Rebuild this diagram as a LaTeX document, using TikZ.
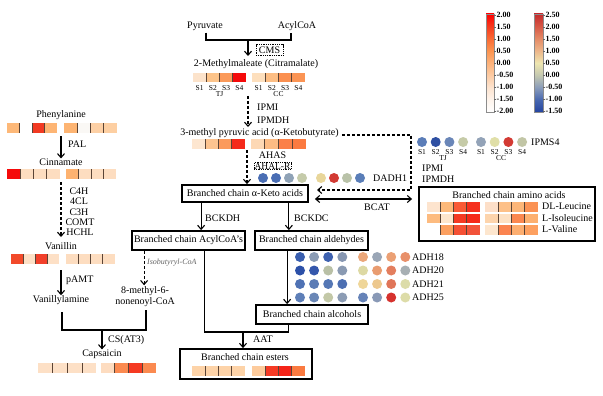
\documentclass[tikz,border=0pt]{standalone}
\usepackage{fontspec}
\setmainfont{Liberation Serif}
\usetikzlibrary{arrows.meta,calc}
\definecolor{sepc}{HTML}{5A4436}
\newcommand\hmrow[5]{%
  \foreach \hc [count=\hi from 0] in {#5}{%
    \edef\hmtmp{\noexpand\definecolor{hmc}{HTML}{\hc}}\hmtmp
    \fill[hmc] ({#1+\hi*#3},#2) rectangle ({#1+(\hi+1)*#3},{#2+#4});
  }%
  \foreach \hi in {1,2,3}{\draw[sep] ({#1+\hi*#3},#2) -- ({#1+\hi*#3},{#2+#4});}%
}
\newcommand\dotrow[4]{%
  \foreach \hc [count=\hi from 0] in {#4}{%
    \edef\hmtmp{\noexpand\definecolor{hmc}{HTML}{\hc}}\hmtmp
    \fill[hmc] ({#1+\hi*#3},#2) circle[radius=5pt];
  }%
}
\newcommand\slabels[4]{% x0, y, dx, prefix
  \foreach \si in {1,2,3,4}{\node[sm] (#4\si) at ({#1+(\si-1)*#3},#2) {S\si};}%
}
\definecolor{a1}{HTML}{FFFFFF}
\definecolor{a2}{HTML}{FEF4EC}
\definecolor{a3}{HTML}{FDE4D0}
\definecolor{a4}{HTML}{FDCCA4}
\definecolor{a5}{HTML}{FDB27A}
\definecolor{a6}{HTML}{FC9450}
\definecolor{a7}{HTML}{FA6A34}
\definecolor{a8}{HTML}{F63A1E}
\definecolor{a9}{HTML}{FF0000}
\definecolor{b1}{HTML}{2444A0}
\definecolor{b2}{HTML}{4868B0}
\definecolor{b3}{HTML}{8A9CBA}
\definecolor{b4}{HTML}{C4C8B0}
\definecolor{b5}{HTML}{EEE6B0}
\definecolor{b6}{HTML}{EDB68A}
\definecolor{b7}{HTML}{E48A66}
\definecolor{b8}{HTML}{D65846}
\definecolor{b9}{HTML}{C42A2C}
\pgfdeclareverticalshading{legA}{100bp}{color(0bp)=(a1); color(25bp)=(a1); color(31.25bp)=(a2); color(37.5bp)=(a3); color(43.75bp)=(a4); color(50bp)=(a5); color(56.25bp)=(a6); color(62.5bp)=(a7); color(68.75bp)=(a8); color(75bp)=(a9); color(100bp)=(a9)}
\pgfdeclareverticalshading{legB}{100bp}{color(0bp)=(b1); color(25bp)=(b1); color(31.25bp)=(b2); color(37.5bp)=(b3); color(43.75bp)=(b4); color(50bp)=(b5); color(56.25bp)=(b6); color(62.5bp)=(b7); color(68.75bp)=(b8); color(75bp)=(b9); color(100bp)=(b9)}
\tikzset{
  lbl/.style={inner sep=0pt, font=\fontsize{10}{12}\selectfont},
  sm/.style={inner sep=0pt, font=\fontsize{7.5}{9}\selectfont},
  leg/.style={inner sep=0pt, anchor=west, font=\fontsize{8}{9}\selectfont\bfseries},
  line/.style={line width=1.1pt},
  arr/.style={line width=1.1pt, -{Straight Barb[length=4pt,width=7pt]}},
  darr/.style={arr, dash pattern=on 3pt off 2pt},
  dbl/.style={line width=1.1pt, {Straight Barb[length=4pt,width=7pt]}-{Straight Barb[length=4pt,width=7pt]}},
  bbox/.style={draw, line width=1.8pt, inner sep=0pt, font=\fontsize{10}{12}\selectfont},
  dotbox/.style={draw, densely dotted, line width=0.8pt, inner xsep=3pt, inner ysep=2pt, font=\fontsize{10}{12}\selectfont},
  sep/.style={draw=sepc, line width=0.6pt},
}
\begin{document}
\begin{tikzpicture}[x=1pt,y=-1pt]
\fill[white] (0,0) rectangle (603,396);
\useasboundingbox (0,0) rectangle (603,396);

% ---------- top ----------
\node[lbl] (pyr) at (205,26) {Pyruvate};
\node[lbl] (acy) at (297,26) {AcylCoA};
\coordinate (br) at (248,40);
\draw[line] ($(pyr.south)+(1,2)$) |- (br) -| ($(acy.south)+(-6,2)$);
\node[lbl] (mm) at (256,64) {2-Methylmaleate (Citramalate)};
\coordinate (mmtop) at (248,56);
\draw[arr] (br) -- (mmtop);
\node[dotbox] (cms) at (269.5,50) {CMS};
\hmrow{193}{73}{13.25}{9.5}{FCE3CB,FDC48A,FB9A5A,F50A0A}
\hmrow{252}{73}{13.25}{9.5}{FDDFBD,FDBE84,FB9050,FB9454}
\slabels{199.6}{88}{13.25}{ta}
\slabels{258.6}{88}{13.25}{ca}
\node[sm] (tja) at (219.5,94.5) {TJ};
\node[sm] (cca) at (278.5,94.5) {CC};

\coordinate (d1) at (248,96);
\coordinate (d1e) at (248,127);
\draw[darr] (d1) -- (d1e);
\node[lbl,anchor=west] (ipmi1) at (257,107) {IPMI};
\node[lbl,anchor=west] (ipmdh1) at (257,120) {IPMDH};
\node[lbl] (mpa) at (259.5,133) {3-methyl pyruvic acid (α-Ketobutyrate)};
\hmrow{192}{139}{13.25}{9.5}{FDE6D0,FDC490,FB9A5C,F52A1A}
\hmrow{251}{139}{13.75}{9.5}{FDD8B4,FDBC84,FB8048,FB7A40}
\node[lbl] (ahas) at (272.5,155) {AHAS};
\node[dotbox, inner xsep=0.5pt, inner ysep=0.3pt, font=\fontsize{9.5}{10}\selectfont] (ahal) at (272.5,166) {AHAL-R};

\node[bbox, minimum width=126pt, minimum height=17pt] (keto) at (245,193.5) {Branched chain α-Keto acids};
\coordinate (d2) at (247,150);
\draw[darr] (d2) -- (d2 |- keto.north);

\dotrow{263}{178}{13}{4A6EB4,4A6EB4,8FA2B6,C5CBAA}
\dotrow{321}{178}{13}{E8D69A,D23A33,B9C2A8,5A7EB8}
\node[lbl,anchor=west] (dadh) at (373,178) {DADH1};

\coordinate (c2) at (411,190);
\coordinate (c3) at (317,190);
\draw[darr] ($(mpa.east)+(3,2)$) -| (c2) -- (c3);

% IPMS4
\dotrow{422}{142}{13.7}{5B7DB8,2E4FA2,6A86B8,C6CBA8}
\dotrow{481}{142}{13.7}{93A3B8,E0DFA8,D33A33,C2C6A6}
\slabels{422}{152.5}{13.7}{tb}
\slabels{481}{152.5}{13.7}{cb}
\node[sm] (tjb) at (443,158.5) {TJ};
\node[sm] (ccb) at (501,158.5) {CC};
\node[lbl,anchor=west] (ipms) at (531,142) {IPMS4};
\node[lbl,anchor=west] (ipmi2) at (422,168) {IPMI};
\node[lbl,anchor=west] (ipmdh2) at (422,179) {IPMDH};

% amino acids
\node[draw, line width=1.8pt, minimum width=176pt, minimum height=54pt, inner sep=0pt] (amino) at (507,214) {};
\node[lbl] (aat) at (509,195) {Branched chain amino acids};
\hmrow{427}{202}{13.25}{9.5}{FDE4CE,FDB97A,FA5A36,F5301E}
\hmrow{485}{202}{13.25}{9.5}{FDDFC8,FDC088,FDB678,FB9254}
\hmrow{427}{213.5}{13.25}{9.5}{FDBB7F,FDE6CD,F53A24,F52A1A}
\hmrow{485}{213.5}{13.25}{9.5}{FDD4AC,FDE1C4,FB8850,FDB070}
\hmrow{427}{225}{13.25}{9.5}{FFFFFF,FCA060,F55034,F2533A}
\hmrow{485}{225}{13.25}{9.5}{FDE6CE,FB8450,FDAE70,FDA060}
\node[lbl,anchor=west] (leu) at (542,206.5) {DL-Leucine};
\node[lbl,anchor=west] (ile) at (542,218) {L-Isoleucine};
\node[lbl,anchor=west] (val) at (542,229.5) {L-Valine};

\draw[dbl] ($(keto.east)+(6,5.5)$) -- ($(amino.west)+(-6,-15)$);
\node[lbl] (bcat) at (377,207.5) {BCAT};

% second level
\node[bbox, minimum width=113pt, minimum height=19pt] (acylb) at (188.5,240.5) {Branched chain AcylCoA’s};
\node[bbox, minimum width=113pt, minimum height=19pt] (aldb) at (311.5,240.5) {Branched chain aldehydes};
\coordinate (k1) at ($(keto.south west)+(20,0)$);
\coordinate (k2) at ($(keto.south east)+(-20,0)$);
\draw[arr] (k1) -- (k1 |- acylb.north);
\draw[arr] (k2) -- (k2 |- aldb.north);
\node[lbl,anchor=west] (bckdh) at (205,218) {BCKDH};
\node[lbl,anchor=west] (bckdc) at (294,218) {BCKDC};

\coordinate (a1) at ($(acylb.south west)+(13,0)$);
\node[lbl, align=center, font=\fontsize{10}{11}\selectfont] (nonen) at (145,296.5) {8-methyl-6-\\nonenoyl-CoA};
\draw[darr] (a1) -- ($(a1 |- nonen.north)+(0,-1)$);
\node[sm, anchor=west, text=black!60, font=\fontsize{8}{9}\selectfont\itshape] (isob) at (147,263) {Isobutyryl-CoA};

% ADH
\dotrow{300}{257}{14.1}{3A5FAF,8B9CB5,3F62B0,8797B2}
\dotrow{363}{257}{14.1}{EBA77A,9AA6B6,EBA074,E8906A}
\dotrow{300}{270.5}{14.1}{2C50A8,3457AC,B9C0A6,8A9AB2}
\dotrow{363}{270.5}{14.1}{DDD9A4,E99C70,E37E5E,A7AFB3}
\dotrow{300}{284}{14.1}{4F72B4,5B7CB6,5577B5,4D6FB2}
\dotrow{363}{284}{14.1}{EFD699,EDC88E,E07558,DCDCA9}
\dotrow{300}{297.5}{14.1}{5E7FB8,6A87B6,C3C8A7,8C9CB4}
\dotrow{363}{297.5}{14.1}{6683B8,8999B6,D6322E,DDDCA8}
\node[lbl,anchor=west] (adh18) at (412,257) {ADH18};
\node[lbl,anchor=west] (adh20) at (412,270.5) {ADH20};
\node[lbl,anchor=west] (adh21) at (412,284) {ADH21};
\node[lbl,anchor=west] (adh25) at (412,297.5) {ADH25};

\node[bbox, minimum width=112pt, minimum height=19pt] (alcb) at (312,314.5) {Branched chain alcohols};
\coordinate (l1) at ($(aldb.south west)+(33,0)$);
\draw[arr] (l1) -- (l1 |- alcb.north);

\node[draw, line width=1.8pt, minimum width=132pt, minimum height=30pt, inner sep=0pt] (estb) at (246,364) {};
\node[lbl] (estt) at (245,357) {Branched chain esters};
\hmrow{192}{366}{13.25}{9.5}{FDD3A8,FDD3A8,FDD3A8,FDD3A8}
\hmrow{252}{366}{13.25}{9.5}{FDCB9C,F53A24,F52418,FA7A40}

\coordinate (a2) at ($(acylb.south west)+(73,0)$);
\coordinate (l2) at ($(alcb.south west)+(33,0)$);
\coordinate (m1) at (243,332);
\draw[line] (a2) |- (m1) -| (l2);
\draw[arr] (m1) -- (m1 |- estb.north);
\node[lbl,anchor=west] (aatl) at (253,339) {AAT};

% ---------- left column ----------
\node[lbl] (phe) at (61,115) {Phenylanine};
\hmrow{7}{123}{12.5}{10}{FDB878,FFFFFF,F23A22,FDB574}
\hmrow{64}{123}{13.25}{10}{FDB472,FAF8F5,FDD0A5,FDCFA2}
\node[lbl] (cin) at (61,162) {Cinnamate};
\coordinate (p1) at (61,136);
\draw[arr] (p1) -- (p1 |- cin.north);
\node[lbl,anchor=west] (pal) at (68,144) {PAL};
\hmrow{7}{169}{13.25}{10}{F50A0A,FDDDC0,FDDDC0,FDDDC0}
\hmrow{66}{169}{12.5}{10}{FDB270,FDDDC0,FDDDC0,FDDDC0}
\node[lbl] (van) at (61,246) {Vanillin};
\coordinate (p2) at (61,182);
\coordinate (p2e) at (61,237);
\draw[darr] (p2) -- (p2e);
\node[lbl] (c4h) at (79,191) {C4H};
\node[lbl] (fcl) at (79,201.5) {4CL};
\node[lbl] (c3h) at (79,212) {C3H};
\node[lbl] (comt) at (80,222) {COMT};
\node[lbl] (hchl) at (80,232) {HCHL};
\hmrow{11}{254}{12}{10}{F24A2A,FDE0C6,F2402A,FDE0C6}
\hmrow{66}{254}{12.25}{10}{FDDDC0,FDDDC0,FDDDC0,FDDDC0}
\node[lbl] (vana) at (61,300) {Vanillylamine};
\coordinate (p3) at (61,270);
\draw[arr] (p3) -- (p3 |- vana.north);
\node[lbl,anchor=west] (pamt) at (66,280) {pAMT};
\coordinate (v1) at (62,312);
\coordinate (v2) at (146,310);
\coordinate (m2) at (102,330);
\draw[line] (v1) |- (m2) -| (v2);
\node[lbl] (cap) at (102,354) {Capsaicin};
\draw[arr] (m2) -- (m2 |- cap.north);
\node[lbl,anchor=west] (cs) at (108,340) {CS(AT3)};
\hmrow{38}{363}{14.6}{10}{FDE0C6,FDE0C6,FDE0C6,FDE0C6}
\hmrow{101}{363}{13.75}{10}{FDDCC0,FB8A50,F53A22,FB8A50}

% ---------- legends ----------
\shade[shading=legA] (486,14) rectangle (494,112);
\draw[black!45, line width=0.6pt] (486,14) rectangle (494,112);
\shade[shading=legB] (534,14) rectangle (543,112);
\draw[black!45, line width=0.6pt] (534,14) rectangle (543,112);
\foreach \v [count=\k from 0] in {2.00,1.50,1.00,0.50,0.00,-0.50,-1.00,-1.50,-2.00}{
  \draw[black!60, line width=0.5pt] (494,{15+12*\k}) -- (496,{15+12*\k});
  \node[leg] (la\k) at (496.5,{15+12*\k}) {\v};
}
\foreach \v [count=\k from 0] in {2.50,2.00,1.50,1.00,0.50,0.00,-0.50,-1.00,-1.50}{
  \draw[black!60, line width=0.5pt] (543,{15+12*\k}) -- (545,{15+12*\k});
  \node[leg] (lb\k) at (545.5,{15+12*\k}) {\v};
}
\end{tikzpicture}
\end{document}
